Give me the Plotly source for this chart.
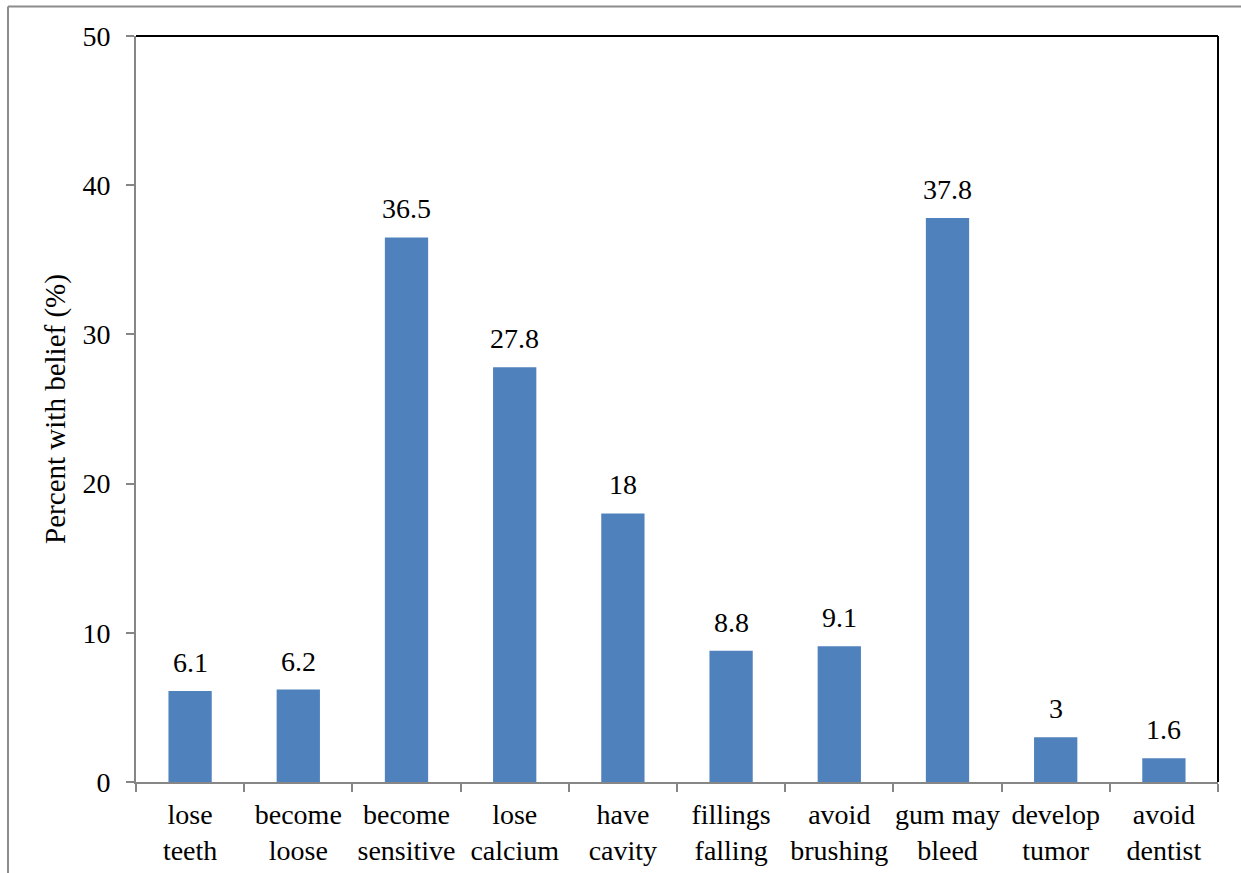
import plotly.graph_objects as go

categories = ["lose<br>teeth", "become<br>loose", "become<br>sensitive", "lose<br>calcium",
              "have<br>cavity", "fillings<br>falling", "avoid<br>brushing", "gum may<br>bleed",
              "develop<br>tumor", "avoid<br>dentist"]
percent = [6.1, 6.2, 36.5, 27.8, 18, 8.8, 9.1, 37.8, 3, 1.6]
y_ticks = [0, 10, 20, 30, 40, 50]

FONT = "Liberation Serif"
SIZE = 28
AXIS_GREY = "#868686"

fig = go.Figure()
fig.add_trace(go.Bar(
    x=categories, y=percent,
    marker=dict(color="#4F81BD", line=dict(width=0)),
    cliponaxis=False,
))

# value labels above each bar
for cat, val in zip(categories, percent):
    fig.add_annotation(
        x=cat, y=val, text=f"{val:g}", showarrow=False,
        yanchor="bottom", yshift=11,
        font=dict(family=FONT, size=SIZE, color="black"),
    )

fig.update_layout(
    width=1241, height=873,
    margin=dict(l=136, r=23, t=36, b=91),
    paper_bgcolor="white", plot_bgcolor="white",
    bargap=0.6,
    showlegend=False,
    font=dict(family=FONT, size=SIZE, color="black"),
    xaxis=dict(
        showline=True, linecolor=AXIS_GREY, linewidth=2,
        ticks="outside", tickson="boundaries", ticklen=8, tickcolor=AXIS_GREY, tickwidth=2,
        ticklabelstandoff=6, tickangle=0, automargin=False,
        tickfont=dict(family=FONT, size=SIZE, color="black"),
        showgrid=False, zeroline=False,
    ),
    yaxis=dict(
        range=[0, 50], tickvals=y_ticks,
        showline=True, linecolor=AXIS_GREY, linewidth=2,
        ticks="outside", ticklen=8, tickcolor=AXIS_GREY, tickwidth=2,
        ticklabelstandoff=10, automargin=False,
        tickfont=dict(family=FONT, size=SIZE, color="black"),
        showgrid=False, zeroline=False,
        title=dict(text="Percent with belief (%)", font=dict(family=FONT, size=29), standoff=8),
    ),
    shapes=[
        # black top and right edges of the plot frame
        dict(type="line", xref="paper", yref="paper", x0=0, x1=1, y0=1, y1=1,
             line=dict(color="black", width=2)),
        dict(type="line", xref="paper", yref="paper", x0=1, x1=1, y0=0, y1=1,
             line=dict(color="black", width=2)),
        # outer chart border (top and left edges)
        dict(type="line", xref="paper", yref="paper", x0=-0.1183, x1=1.1, y0=1.0396, y1=1.0396,
             line=dict(color="#8c8c8c", width=2)),
        dict(type="line", xref="paper", yref="paper", x0=-0.1183, x1=-0.1183, y0=-0.2, y1=1.0396,
             line=dict(color="#8c8c8c", width=2)),
    ],
)

fig.write_html("out.html")
